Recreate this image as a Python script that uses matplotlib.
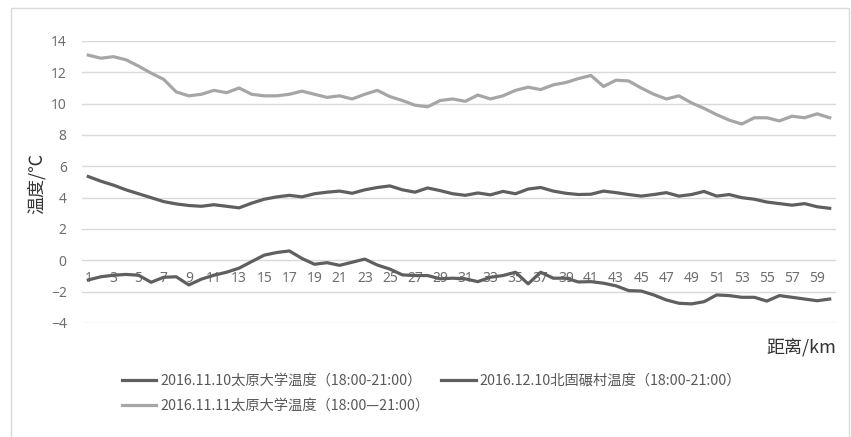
import numpy as np
import matplotlib
matplotlib.use("Agg")
import matplotlib.pyplot as plt
from matplotlib.patches import Rectangle

plt.rcParams['font.family'] = ['Noto Sans CJK SC', 'DejaVu Sans']

# distance points (km)
km = np.arange(1, 61)

# 2016.11.11 Taiyuan University (light gray, top)
t_1111 = [13.1, 12.9, 13.0, 12.8, 12.4, 11.95, 11.55, 10.75, 10.5, 10.6,
          10.85, 10.7, 11.0, 10.6, 10.5, 10.5, 10.6, 10.8, 10.6, 10.4,
          10.5, 10.3, 10.6, 10.85, 10.45, 10.2, 9.9, 9.8, 10.2, 10.3,
          10.15, 10.55, 10.3, 10.5, 10.85, 11.05, 10.9, 11.2, 11.35, 11.6,
          11.8, 11.1, 11.5, 11.45, 11.0, 10.6, 10.3, 10.5, 10.05, 9.7,
          9.3, 8.95, 8.7, 9.1, 9.1, 8.9, 9.2, 9.1, 9.35, 9.1]

# 2016.11.10 Taiyuan University (dark gray, middle)
t_1110 = [5.35, 5.05, 4.8, 4.5, 4.25, 4.0, 3.75, 3.6, 3.5, 3.45,
          3.55, 3.45, 3.35, 3.65, 3.9, 4.05, 4.15, 4.05, 4.25, 4.35,
          4.42, 4.28, 4.5, 4.65, 4.75, 4.5, 4.35, 4.62, 4.45, 4.25,
          4.15, 4.3, 4.18, 4.4, 4.25, 4.55, 4.65, 4.42, 4.28, 4.2,
          4.22, 4.42, 4.32, 4.2, 4.1, 4.2, 4.32, 4.1, 4.2, 4.4,
          4.1, 4.2, 4.0, 3.9, 3.72, 3.62, 3.52, 3.62, 3.42, 3.32]

# 2016.12.10 Beiguniancun (dark gray, bottom)
t_1210 = [-1.25, -1.05, -0.95, -0.9, -0.95, -1.4, -1.08, -1.05, -1.57, -1.2,
          -0.95, -0.76, -0.5, -0.08, 0.33, 0.5, 0.6, 0.12, -0.25, -0.15,
          -0.32, -0.12, 0.08, -0.3, -0.56, -0.93, -0.97, -0.97, -1.18, -1.14,
          -1.18, -1.36, -1.08, -0.97, -0.76, -1.5, -0.76, -1.14, -1.14, -1.38,
          -1.36, -1.46, -1.63, -1.93, -1.96, -2.21, -2.53, -2.74, -2.78, -2.64,
          -2.21, -2.25, -2.36, -2.36, -2.6, -2.25, -2.36, -2.47, -2.58, -2.47]

labels = ['2016.11.10太原大学温度（18:00-21:00）',
          '2016.11.11太原大学温度（18:00—21:00）',
          '2016.12.10北固碾村温度（18:00-21:00）']

dark = '#5f5f5f'
light = '#a6a6a6'

fig = plt.figure(figsize=(8.51, 4.37), dpi=100)
ax = fig.add_axes([82 / 851, 1 - 323 / 437, 754 / 851, 282 / 437])

l1, = ax.plot(km, t_1110, color=dark, lw=2.3, zorder=3)
l2, = ax.plot(km, t_1111, color=light, lw=2.3, zorder=3)
l3, = ax.plot(km, t_1210, color=dark, lw=2.3, zorder=3)

ax.set_xlim(0.5, 60.5)
ax.set_ylim(-4, 14)
ax.set_yticks(np.arange(-4, 15, 2))
ax.set_xticks(km[::2])
ax.grid(axis='y', color='#d9d9d9', lw=1)
ax.set_axisbelow(True)
for s in ax.spines.values():
    s.set_visible(False)
ax.spines['bottom'].set_position(('data', 0))
ax.tick_params(axis='both', length=0, labelsize=10, labelcolor='#6e6e6e')
ax.tick_params(axis='y', pad=11)
ax.tick_params(axis='x', pad=8)
for t in ax.get_xticklabels() + ax.get_yticklabels():
    t.set_family(['Noto Sans', 'DejaVu Sans'])

fig.text(37 / 851, 1 - 183 / 437, '温度/℃', rotation=90, ha='center', va='center',
         fontsize=13, color='#333333')
fig.text(836 / 851, 1 - 348 / 437, '距离/km', ha='right', va='center',
         fontsize=13, color='#333333')

fig.legend([l1, l2, l3], labels, ncol=2, loc='upper left',
           bbox_to_anchor=(122 / 851, 1 - 374 / 437), frameon=False,
           fontsize=10.3, labelcolor='#595959', handlelength=2.4,
           handletextpad=0.3, columnspacing=0.8, labelspacing=0.75,
           borderpad=0, borderaxespad=0)

fig.patches.append(Rectangle((11 / 851, -0.05), 838 / 851, 1.05 - 8 / 437,
                             transform=fig.transFigure, fill=False,
                             edgecolor='#d9d9d9', lw=1))

fig.savefig('out.png', dpi=100)
